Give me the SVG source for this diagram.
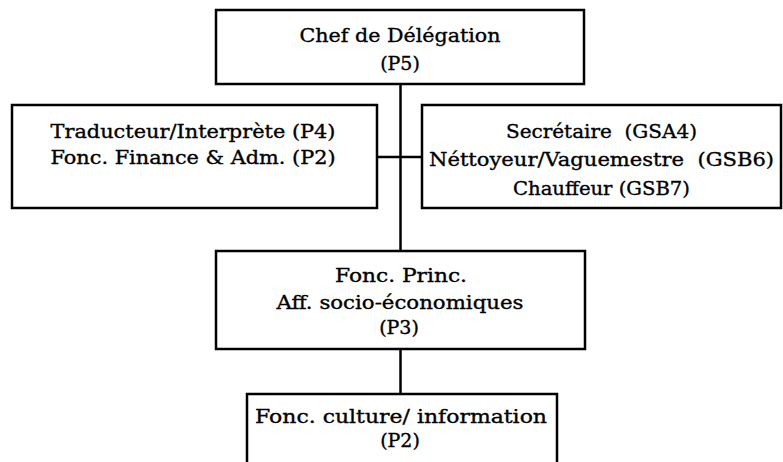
<svg xmlns="http://www.w3.org/2000/svg" width="783" height="462" viewBox="0 0 783 462">
<style>
.box{fill:#fff;stroke:#000;stroke-width:2.5}
.ln{stroke:#000;stroke-width:2.5;fill:none}
text{font-family:"DejaVu Serif","Liberation Serif",serif;font-size:19px;fill:#000;stroke:#000;stroke-width:0.35;text-anchor:middle}
</style>
<rect width="783" height="462" fill="#fff"/>
<g id="connectors">
<line class="ln" x1="400.5" y1="84" x2="400.5" y2="251"/>
<line class="ln" x1="377" y1="157" x2="422" y2="157"/>
<line class="ln" x1="400.5" y1="349" x2="400.5" y2="394"/>
</g>
<g id="chef">
<rect class="box" x="216" y="10" width="368" height="74"/>
<text x="400" y="42" textLength="201" lengthAdjust="spacingAndGlyphs">Chef de Délégation</text>
<text x="400" y="70">(P5)</text>
</g>
<g id="traducteur">
<rect class="box" x="12" y="105" width="365" height="103"/>
<text x="193" y="138" textLength="285" lengthAdjust="spacingAndGlyphs">Traducteur/Interprète (P4)</text>
<text x="193" y="164" textLength="285" lengthAdjust="spacingAndGlyphs">Fonc. Finance &amp; Adm. (P2)</text>
</g>
<g id="secretaire">
<rect class="box" x="422" y="105" width="359" height="103"/>
<text x="601.5" y="138" textLength="191" lengthAdjust="spacingAndGlyphs" xml:space="preserve">Secrétaire  (GSA4)</text>
<text x="601.5" y="166" textLength="345" lengthAdjust="spacingAndGlyphs" xml:space="preserve">Néttoyeur/Vaguemestre  (GSB6)</text>
<text x="601.5" y="195" textLength="177" lengthAdjust="spacingAndGlyphs">Chauffeur (GSB7)</text>
</g>
<g id="fonc-princ">
<rect class="box" x="216" y="251" width="369" height="98"/>
<text x="401" y="282" textLength="132" lengthAdjust="spacingAndGlyphs">Fonc. Princ.</text>
<text x="400" y="309" textLength="247" lengthAdjust="spacingAndGlyphs">Aff. socio-économiques</text>
<text x="399" y="334">(P3)</text>
</g>
<g id="fonc-culture">
<path class="ln" d="M247,463 V394 H557 V463"/>
<text x="401" y="423" textLength="292" lengthAdjust="spacingAndGlyphs">Fonc. culture/ information</text>
<text x="400" y="447">(P2)</text>
</g>
</svg>
